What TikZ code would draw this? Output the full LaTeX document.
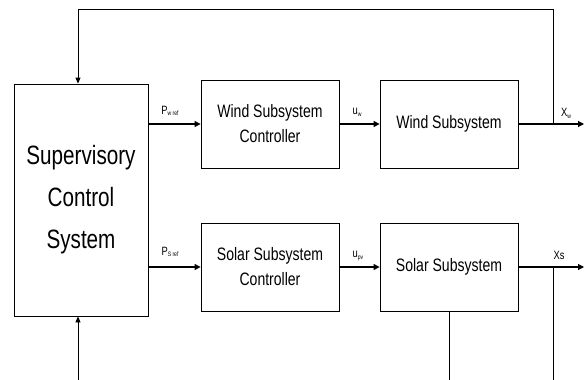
\documentclass[tikz,border=0pt]{standalone}
\usepackage{fontspec}
\setmainfont{Liberation Sans}[FakeStretch=0.78]
\usetikzlibrary{arrows.meta}
\newcommand{\lbsub}[1]{{\fontsize{6.5}{6.5}\selectfont\raisebox{-1.8pt}{#1}}}
\tikzset{
  blk/.style={draw=black, line width=0.8pt, minimum width=138pt, minimum height=88pt, align=center, inner sep=0pt, font=\fontsize{18}{25}\selectfont},
  arr/.style={line width=1.1pt, -{Triangle[length=6pt,width=6pt]}},
  ln/.style={line width=0.8pt},
  lbl/.style={inner sep=0pt, font=\fontsize{12}{12}\selectfont}
}
\begin{document}
\begin{tikzpicture}[x=1pt,y=-1pt]
\useasboundingbox (0,0) rectangle (584,380);
\node[blk, minimum width=134pt, minimum height=232pt, font=\fontsize{26.5}{42}\selectfont] (sup) at (81,200) {Supervisory\\Control\\System};
\node[blk] (wc) at (270,124) {Wind Subsystem\\Controller};
\node[blk] (ws) at (449,124) {Wind Subsystem};
\node[blk] (sc) at (270,267) {Solar Subsystem\\Controller};
\node[blk] (ss) at (449,267) {Solar Subsystem};
\coordinate (xwend) at (584,124);
\coordinate (xsend) at (584,267);
\coordinate (fbR) at (553,124);
\coordinate (topR) at (553,9);
\coordinate (topL) at (78,9);
\coordinate (botin) at (78,380);
\coordinate (sbR) at (553,267);
\coordinate (sbRb) at (553,380);
\draw[arr] (sup.east |- wc.west) -- (wc.west);
\draw[arr] (sup.east |- sc.west) -- (sc.west);
\draw[arr] (wc.east) -- (ws.west);
\draw[arr] (sc.east) -- (ss.west);
\draw[arr] (ws.east) -- (xwend);
\draw[arr] (ss.east) -- (xsend);
\draw[ln, -{Triangle[length=6pt,width=5pt]}] (fbR) -- (topR) -- (topL) -- (sup.north -| topL);
\draw[ln, -{Triangle[length=6pt,width=5pt]}] (botin) -- (sup.south -| botin);
\draw[ln] (ss.south) -- (ss.south |- botin);
\draw[ln] (sbR) -- (sbRb);
\node[lbl] (pw) at (170,111) {P\lbsub{w ref}};
\node[lbl] (ps) at (170,252) {P\lbsub{S ref}};
\node[lbl] (uw) at (357,112) {u\lbsub{w}};
\node[lbl] (upv) at (358,256) {u\lbsub{pv}};
\node[lbl] (xw) at (566,113) {X\lbsub{w}};
\node[lbl] (xs) at (559,255) {Xs};
\end{tikzpicture}
\end{document}
